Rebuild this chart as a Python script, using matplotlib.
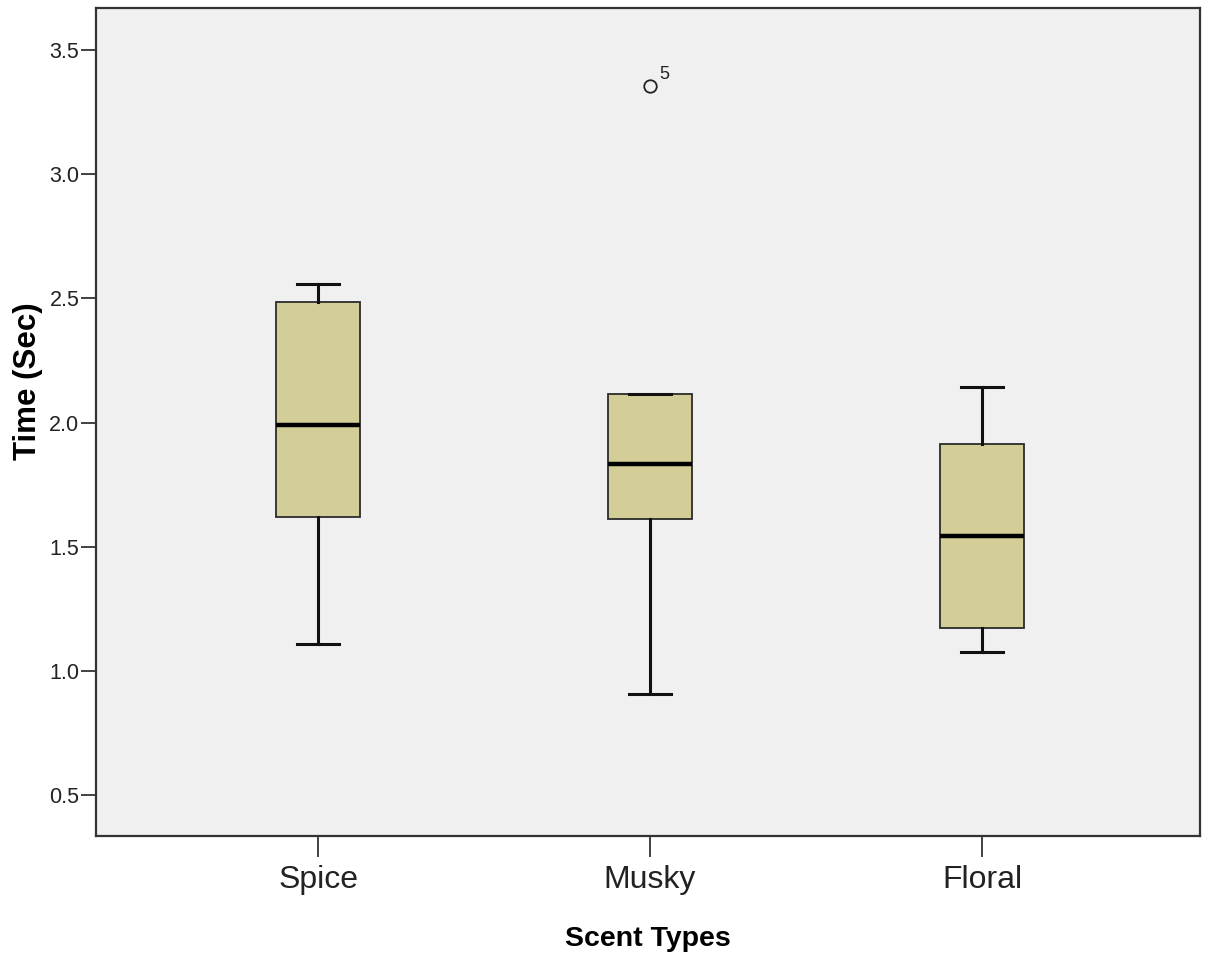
import matplotlib
matplotlib.use("Agg")
import matplotlib.pyplot as plt

plt.rcParams["font.family"] = ["Liberation Sans", "DejaVu Sans"]

# box summaries
groups = ["Spice", "Musky", "Floral"]
whislo = [1.11, 0.905, 1.077]
q1 = [1.621, 1.613, 1.173]
med = [1.992, 1.835, 1.544]
q3 = [2.484, 2.113, 1.915]
whishi = [2.556, 2.113, 2.141]
outliers = [[], [3.355], []]
outlier_ids = [[], ["5"], []]

yticks = [0.5, 1.0, 1.5, 2.0, 2.5, 3.0, 3.5]

stats = []
for i, g in enumerate(groups):
    stats.append(dict(label=g, whislo=whislo[i], q1=q1[i], med=med[i],
                      q3=q3[i], whishi=whishi[i], fliers=outliers[i]))

fig = plt.figure(figsize=(12.09, 9.61), dpi=100)
ax = fig.add_axes([0.0794, 0.130, 0.9132, 0.8617])
ax.set_facecolor("#f0f0f0")

pos = list(range(len(groups)))
ax.bxp(stats, positions=pos, widths=0.253, patch_artist=True,
       boxprops=dict(facecolor="#d3ce97", edgecolor="#2b2b2b", linewidth=1.3),
       medianprops=dict(color="black", linewidth=3.2),
       whiskerprops=dict(color="#111111", linewidth=2.2),
       capprops=dict(color="#111111", linewidth=2.2),
       capwidths=0.127,
       flierprops=dict(marker="o", markersize=9, markerfacecolor="none",
                       markeredgecolor="#222222", markeredgewidth=1.3))

for i, ids in enumerate(outlier_ids):
    for v, lab in zip(outliers[i], ids):
        ax.annotate(lab, (pos[i], v), xytext=(7, 5), textcoords="offset points",
                    fontsize=13, color="#222222")

ax.set_xlim(-0.669, 2.657)
ax.set_ylim(0.335, 3.669)
ax.set_yticks(yticks)
ax.set_yticklabels([f"{t:.1f}" for t in yticks])
ax.set_xticks(pos)
ax.set_xticklabels(groups)
ax.tick_params(axis="y", length=11, width=1.3, labelsize=15.5, colors="#333333",
               labelcolor="#222222", pad=1)
ax.tick_params(axis="x", length=15, width=1.3, labelsize=23, colors="#333333",
               labelcolor="#222222", pad=6)

for s in ax.spines.values():
    s.set_color("#333333")
    s.set_linewidth(1.6)

ax.set_xlabel("Scent Types", fontsize=20.5, fontweight="bold", labelpad=22)
ax.set_ylabel("Time (Sec)", fontsize=22.5, fontweight="bold")
ax.yaxis.set_label_coords(-0.048, 0.549)

fig.savefig("out.png", dpi=100, facecolor="white")
